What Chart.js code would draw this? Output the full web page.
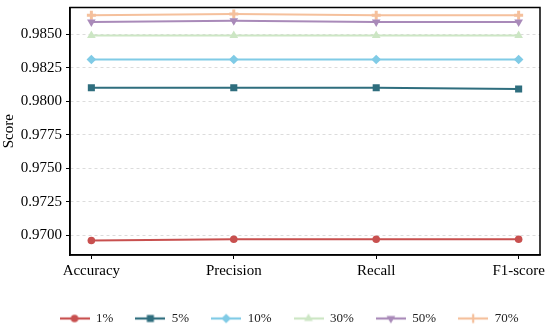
<!DOCTYPE html>
<html><head><meta charset="utf-8">
<script src="https://cdn.jsdelivr.net/npm/chart.js@4"></script>
<style>html,body{margin:0;padding:0;background:#fff}#wrap{width:550px;height:331px}</style>
</head><body><div id="wrap"><canvas id="c" width="550" height="331"></canvas></div>
<script>
const categories = ['Accuracy', 'Precision', 'Recall', 'F1-score'];
const seriesNames = ['1%', '5%', '10%', '30%', '50%', '70%'];
const s1 = [0.9696, 0.9697, 0.9697, 0.9697];
const s5 = [0.9810, 0.9810, 0.9810, 0.9809];
const s10 = [0.9831, 0.9831, 0.9831, 0.9831];
const s30 = [0.9849, 0.9849, 0.9849, 0.9849];
const s50 = [0.9859, 0.9860, 0.9859, 0.9859];
const s70 = [0.9864, 0.9865, 0.9864, 0.9864];
const yTicks = [0.9700, 0.9725, 0.9750, 0.9775, 0.9800, 0.9825, 0.9850];

const seriesValues = [s1, s5, s10, s30, s50, s70];
const colors = ['#c8504f', '#2f6e7e', '#80cbe6', '#cce6c4', '#a98ab9', '#f5c09c'];
const styles = [
  {pointStyle: 'circle', radius: 3.8, rotation: 0, bw: 0},
  {pointStyle: 'rect', radius: 5, rotation: 0, bw: 0},
  {pointStyle: 'rectRot', radius: 4.8, rotation: 0, bw: 0},
  {pointStyle: 'triangle', radius: 5, rotation: 0, bw: 0},
  {pointStyle: 'triangle', radius: 5, rotation: 180, bw: 0},
  {pointStyle: 'cross', radius: 4.5, rotation: 0, bw: 3}
];

function legendImage(i) {
  const cv = document.createElement('canvas');
  cv.width = 30; cv.height = 12;
  const g = cv.getContext('2d');
  g.strokeStyle = colors[i]; g.lineWidth = 2.2;
  g.beginPath(); g.moveTo(0, 6); g.lineTo(30, 6); g.stroke();
  g.fillStyle = colors[i]; g.strokeStyle = colors[i];
  const st = styles[i];
  Chart.helpers.drawPoint(g, {pointStyle: st.pointStyle, radius: st.radius, rotation: st.rotation, borderWidth: st.bw}, 15, 6);
  return cv;
}

const datasets = seriesValues.map((vals, i) => ({
  label: seriesNames[i],
  data: vals.map((v, k) => ({x: k, y: v})),
  borderColor: colors[i],
  backgroundColor: colors[i],
  borderWidth: 2,
  pointStyle: styles[i].pointStyle,
  pointRadius: styles[i].radius,
  pointRotation: styles[i].rotation,
  pointBorderWidth: styles[i].bw,
  pointBorderColor: colors[i],
  pointBackgroundColor: colors[i],
  tension: 0
}));

const serif = "'Liberation Serif', 'DejaVu Serif', serif";

const framePlugin = {
  id: 'frame',
  afterLayout(chart) {
    const lg = chart.legend;
    if (lg) { lg.left += 19; lg.right += 19; lg.top += 4; lg.bottom += 4; }
  },
  afterDraw(chart) {
    const a = chart.chartArea, c = chart.ctx;
    c.save(); c.strokeStyle = '#000'; c.lineWidth = 1.5;
    c.strokeRect(a.left, a.top, a.right - a.left, a.bottom - a.top);
    c.restore();
  }
};

new Chart(document.getElementById('c'), {
  type: 'line',
  data: {datasets},
  plugins: [framePlugin],
  options: {
    responsive: false,
    animation: false,
    layout: {padding: {left: 0, right: 10, top: 4, bottom: 0}},
    plugins: {
      tooltip: {enabled: false},
      legend: {
        position: 'bottom',
        labels: {
          usePointStyle: true,
          pointStyleWidth: 30,
          padding: 22,
          color: '#222',
          font: {family: serif, size: 13},
          generateLabels(chart) {
            const items = Chart.defaults.plugins.legend.labels.generateLabels(chart);
            items.forEach((it, i) => { it.pointStyle = legendImage(i); it.rotation = 0; });
            return items;
          }
        }
      }
    },
    scales: {
      x: {
        type: 'linear',
        min: -0.15,
        max: 3.15,
        afterBuildTicks(scale) { scale.ticks = categories.map((c, i) => ({value: i})); },
        afterFit(scale) { scale.height = 31; scale.paddingLeft = 0; scale.paddingRight = 0; },
        ticks: {
          callback: (v) => categories[v] !== undefined ? categories[v] : '',
          color: '#000',
          font: {family: serif, size: 15},
          padding: 3,
          maxRotation: 0,
          autoSkip: false
        },
        grid: {display: true, drawOnChartArea: false, drawTicks: true, tickLength: 4, tickColor: '#000', tickWidth: 1},
        border: {display: true, color: '#000', width: 1.5}
      },
      y: {
        min: 0.96852,
        max: 0.98698,
        afterBuildTicks(scale) { scale.ticks = yTicks.map(v => ({value: v})); },
        afterFit(scale) { scale.width = 70; scale.paddingTop = 0; scale.paddingBottom = 0; },
        ticks: {
          callback: (v) => Number(v).toFixed(4),
          color: '#000',
          font: {family: serif, size: 15},
          padding: 4
        },
        title: {display: true, text: 'Score', color: '#000', font: {family: serif, size: 15}, padding: {top: 0, bottom: 0}},
        grid: {display: true, color: '#d3d3d3', lineWidth: 0.8, tickLength: 4, tickColor: '#000', tickWidth: 1, tickBorderDash: []},
        border: {display: true, color: '#000', width: 1.5, dash: [3, 3]}
      }
    }
  }
});
</script>
</body></html>
